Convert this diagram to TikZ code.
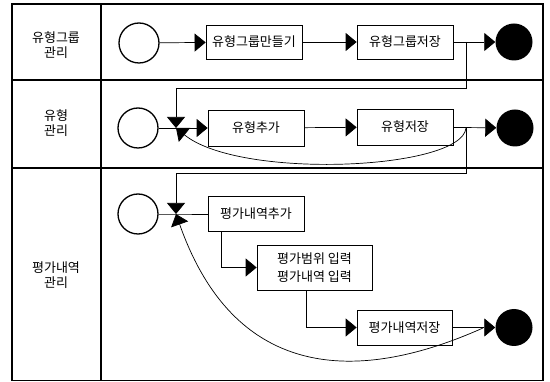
\documentclass[tikz,border=0pt]{standalone}
\usepackage{fontspec}
\setmainfont{Noto Sans CJK KR}
\usetikzlibrary{arrows.meta}
\begin{document}
\begin{tikzpicture}[x=1pt,y=-1pt,
  frame/.style={line width=1.6pt},
  actbox/.style={draw, line width=0.7pt, inner sep=0pt, align=center, font=\fontsize{13}{18}\selectfont},
  lanelabel/.style={align=center, font=\fontsize{13}{15}\selectfont},
  startnode/.style={circle, draw, line width=1.3pt, minimum size=40pt, inner sep=0pt},
  endnode/.style={circle, fill=black, minimum size=37pt, inner sep=0pt},
  conn/.style={line width=0.7pt},
  flow/.style={conn, -{Triangle[length=11pt,width=18pt]}}
]
\useasboundingbox (0,0) rectangle (550,382);
% frame
\draw[frame] (12,4) rectangle (543,380.5);
\draw[frame] (101,4) -- (101,380.5);
\draw[frame] (12,80) -- (543,80);
\draw[frame] (12,168) -- (543,168);
% lane labels
\node[lanelabel] (l1) at (56,45) {유형그룹\\관리};
\node[lanelabel] (l2) at (56,123) {유형\\관리};
\node[lanelabel] (l3) at (56,275) {평가내역\\관리};
% lane 1
\node[startnode] (s1) at (139,43) {};
\node[actbox, minimum width=96pt, minimum height=34pt] (a1) at (254,42) {유형그룹만들기};
\node[actbox, minimum width=96pt, minimum height=34pt] (a2) at (405,42) {유형그룹저장};
\node[endnode] (e1) at (514,42) {};
\draw[flow] (s1) -- (a1);
\draw[flow] (a1) -- (a2);
\draw[flow] (a2) -- (e1);
% lane 2
\node[startnode] (s2) at (138,128) {};
\coordinate (b2) at (176,128);
\node[actbox, minimum width=96pt, minimum height=36pt] (a3) at (256,128) {유형추가};
\node[actbox, minimum width=96pt, minimum height=36pt] (a4) at (405,127) {유형저장};
\node[endnode] (e2) at (515,128) {};
\draw[conn] (s2.east) -- (b2);
\draw[flow] (b2) -- (a3.west);
\draw[flow] (a3) -- (a4);
\draw[flow] (a4) -- (e2);
% loop from lane 1
\coordinate (j1) at (466,42);
\coordinate (k1) at (176,88);
\draw[flow] (j1) |- (k1) -- (b2);
% lane 3
\node[startnode] (s3) at (138,214) {};
\coordinate (b3) at (176,214);
\node[actbox, minimum width=96pt, minimum height=35pt] (a5) at (256,214) {평가내역추가};
\node[actbox, minimum width=115pt, minimum height=45pt] (a6) at (314.5,267.5) {평가범위 입력\\평가내역 입력};
\node[actbox, minimum width=95pt, minimum height=35pt] (a7) at (404.5,327.5) {평가내역저장};
\node[endnode] (e3) at (514,327.5) {};
\draw[conn] (s3.east) -- (b3) -- (a5.west);
\draw[flow] ([xshift=14pt]a5.south west) |- (a6.west);
\draw[flow] ([xshift=50pt]a6.south west) |- (a7.west);
\draw[flow] (a7) -- (e3);
% loop from lane 2
\coordinate (j2) at (466,128);
\coordinate (k2) at (176,173);
\draw[flow] (j2) |- (k2) -- (b3);
% return curves
\draw[flow] (j2) .. controls (462,170) and (240,180) .. (b2);
\coordinate (j3) at (483,328);
\draw[flow] (j3) .. controls (400,365) and (245,410) .. (b3);
\end{tikzpicture}
\end{document}
